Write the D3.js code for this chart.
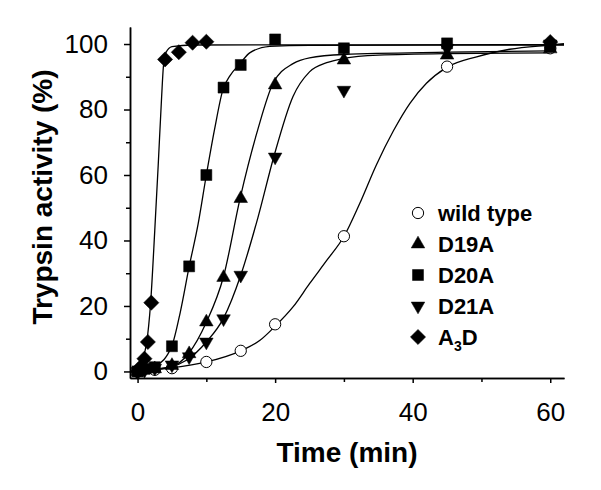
<!DOCTYPE html>
<html>
<head>
<meta charset="utf-8">
<script src="https://cdn.jsdelivr.net/npm/d3@7"></script>
<style>
  body { margin: 0; background: #fff; }
  svg { display: block; font-family: 'Liberation Sans', Arial, sans-serif; }
</style>
</head>
<body>
<svg id="chart"></svg>
<script>
// measured points (time in min, activity in %)
let wtTime = [0, 2.5, 5, 10, 15, 20, 30, 45, 60]
let wtVal = [0, 0.5, 1, 2.9, 6.3, 14.4, 41.3, 93.1, 98.7]

let d19Time = [0, 1, 2.5, 5, 7.5, 10, 12.5, 15, 20, 30, 45, 60]
let d19Val = [0, 0.5, 0.8, 1.8, 5.4, 15.1, 28.7, 52.8, 87.5, 95.1, 96.6, 98.5]

let d20Time = [0, 1, 2.5, 5, 7.5, 10, 12.5, 15, 20, 30, 45, 60]
let d20Val = [0, 0.8, 1.3, 7.7, 32.1, 60, 86.7, 93.6, 101.4, 98.7, 100.2, 99.5]

let d21Time = [0, 1, 2.5, 5, 7.5, 10, 12.5, 15, 20, 30, 45, 60]
let d21Val = [0, 0.3, 1, 2, 4.5, 9, 16.1, 29.4, 65.5, 85.9, 98.7, 100]

let a3dTime = [0, 0.5, 1, 1.5, 2, 4, 6, 8, 10, 60]
let a3dVal = [0, 1.5, 3.9, 9, 21, 95.3, 97.5, 100.4, 100.7, 100.6]

// fitted curves
let wtCurve = [[0, 0.2], [5, 1.1], [10, 2.9], [15, 6.3], [17.8, 9.5], [20, 13.8], [22.6, 19.7], [25, 26.8], [27.5, 33.9], [30, 41.2], [32.3, 51.3], [34.7, 63], [37.2, 73.5], [39.6, 81.9], [42, 88], [44.9, 92.8], [49.3, 96.1], [54.1, 98.4], [60, 99.7], [62, 100.1]]
let d19Curve = [[0, 0.2], [4.7, 1.3], [7.4, 5.4], [10, 15], [12.5, 29], [14.9, 52.8], [17.5, 74], [19.7, 88], [22.6, 94], [25, 95.8], [30, 96.8], [45, 97.5], [60, 97.9]]
let d20Curve = [[0, 0.3], [2.7, 1.8], [5, 7.9], [6.2, 18], [7.5, 32], [8.8, 45], [10, 60], [11.2, 74], [12.4, 86], [13.5, 90.5], [14.9, 94], [16.3, 97.3], [19.2, 99.3], [25, 99.6], [62, 99.7]]
let d21Curve = [[0, 0.2], [4.7, 1.3], [7.1, 3.4], [10, 9], [12.5, 16.3], [15, 29.4], [17.5, 47], [19.8, 65.5], [22.6, 84], [25, 91.5], [27.5, 94.3], [30, 95.6], [35, 96.6], [45, 97.1], [60, 97.3]]
let a3dCurve = [[0, 0.5], [0.6, 3.5], [1.3, 8.5], [1.9, 21], [2.5, 43], [3.0, 63], [3.5, 84], [3.75, 93], [4.1, 97.3], [5, 99.2], [8, 99.7], [62, 99.8]]

let xMajor = [0, 20, 40, 60]
let xMinor = [10, 30, 50]
let yMajor = [0, 20, 40, 60, 80, 100]
let yMinor = [10, 30, 50, 70, 90]

let seriesNames = ['wild type', 'D19A', 'D20A', 'D21A', 'A3D']

let w = 601
let h = 490

let svg = d3.select('#chart').attr('width', w).attr('height', h)

let xScale = d3.scaleLinear().domain([-1.1, 62]).range([130, 564])
let yScale = d3.scaleLinear().domain([-2, 105.2]).range([378, 27])

let zip = (t, v) => t.map((d, i) => [d, v[i]])

let series = [
  { name: 'wild type', pts: zip(wtTime, wtVal), curve: wtCurve, shape: 'circle' },
  { name: 'D20A', pts: zip(d20Time, d20Val), curve: d20Curve, shape: 'square' },
  { name: 'D19A', pts: zip(d19Time, d19Val), curve: d19Curve, shape: 'up' },
  { name: 'D21A', pts: zip(d21Time, d21Val), curve: d21Curve, shape: 'down' },
  { name: 'A3D', pts: zip(a3dTime, a3dVal), curve: a3dCurve, shape: 'diamond' }
]

let symbolPath = {
  circle: d3.symbol(d3.symbolCircle, 100)(),
  square: d3.symbol(d3.symbolSquare, 121)(),
  up: d3.symbol(d3.symbolTriangle, 80)(),
  down: d3.symbol(d3.symbolTriangle, 80)(),
  diamond: d3.symbol(d3.symbolSquare, 115)()
}
let symbolRot = { circle: 0, square: 0, up: 0, down: 180, diamond: 45 }

let drawMarker = (g, shape, x, y) => {
  g.append('path')
    .attr('d', symbolPath[shape])
    .attr('transform', 'translate(' + x + ',' + y + ') rotate(' + symbolRot[shape] + ')')
    .attr('fill', shape == 'circle' ? '#fff' : '#000')
    .attr('stroke', '#000')
    .attr('stroke-width', shape == 'circle' ? 1 : 0.5)
}

// axes
let xAxis = d3.axisBottom(xScale).tickValues(xMajor).tickSize(5).tickSizeOuter(0).tickPadding(20)
let xAxisMinor = d3.axisBottom(xScale).tickValues(xMinor).tickSize(4).tickSizeOuter(0).tickFormat('')
let yAxis = d3.axisLeft(yScale).tickValues(yMajor).tickSize(6).tickSizeOuter(0).tickPadding(16)
let yAxisMinor = d3.axisLeft(yScale).tickValues(yMinor).tickSize(4).tickSizeOuter(0).tickFormat('')

let styleAxis = (g) => {
  g.selectAll('path, line').attr('stroke', '#000').attr('stroke-width', 1.5)
  g.selectAll('text').attr('fill', '#000').style('font-size', '26px').style('font-family', "'Liberation Sans', Arial, sans-serif")
}

svg.append('g').attr('transform', 'translate(0,378)').call(xAxisMinor).call(styleAxis)
svg.append('g').attr('transform', 'translate(0,378)').call(xAxis).call(styleAxis)
svg.append('g').attr('transform', 'translate(130,0)').call(yAxisMinor).call(styleAxis)
svg.append('g').attr('transform', 'translate(130,0)').call(yAxis).call(styleAxis)

svg.append('text')
  .attr('x', 347).attr('y', 462)
  .attr('text-anchor', 'middle')
  .style('font-size', '28px').style('font-weight', 'bold')
  .text('Time (min)')

svg.append('text')
  .attr('transform', 'translate(52,197) rotate(-90)')
  .attr('text-anchor', 'middle')
  .style('font-size', '28px').style('font-weight', 'bold')
  .text('Trypsin activity (%)')

// fitted curves
let line = d3.line()
  .x((d) => xScale(d[0]))
  .y((d) => yScale(d[1]))
  .curve(d3.curveMonotoneX)

svg.append('g').selectAll('path')
  .data(series)
  .enter()
  .append('path')
  .attr('d', (d) => line(d.curve))
  .attr('fill', 'none')
  .attr('stroke', '#000')
  .attr('stroke-width', 1.3)

// points
series.forEach((s) => {
  let g = svg.append('g')
  s.pts.forEach((p) => drawMarker(g, s.shape, xScale(p[0]), yScale(p[1])))
})

// legend
let legendShapes = ['circle', 'up', 'square', 'down', 'diamond']
let legend = svg.append('g')
seriesNames.forEach((name, i) => {
  let cy = 213 + i * 31
  drawMarker(legend, legendShapes[i], 418, cy)
  let t = legend.append('text')
    .attr('x', 438).attr('y', cy + 8)
    .style('font-size', '22px').style('font-weight', 'bold')
  if (name == 'A3D') {
    t.append('tspan').text('A')
    t.append('tspan').attr('dy', 6).style('font-size', '14px').text('3')
    t.append('tspan').attr('dy', -6).text('D')
  } else {
    t.text(name)
  }
})
</script>
</body>
</html>
